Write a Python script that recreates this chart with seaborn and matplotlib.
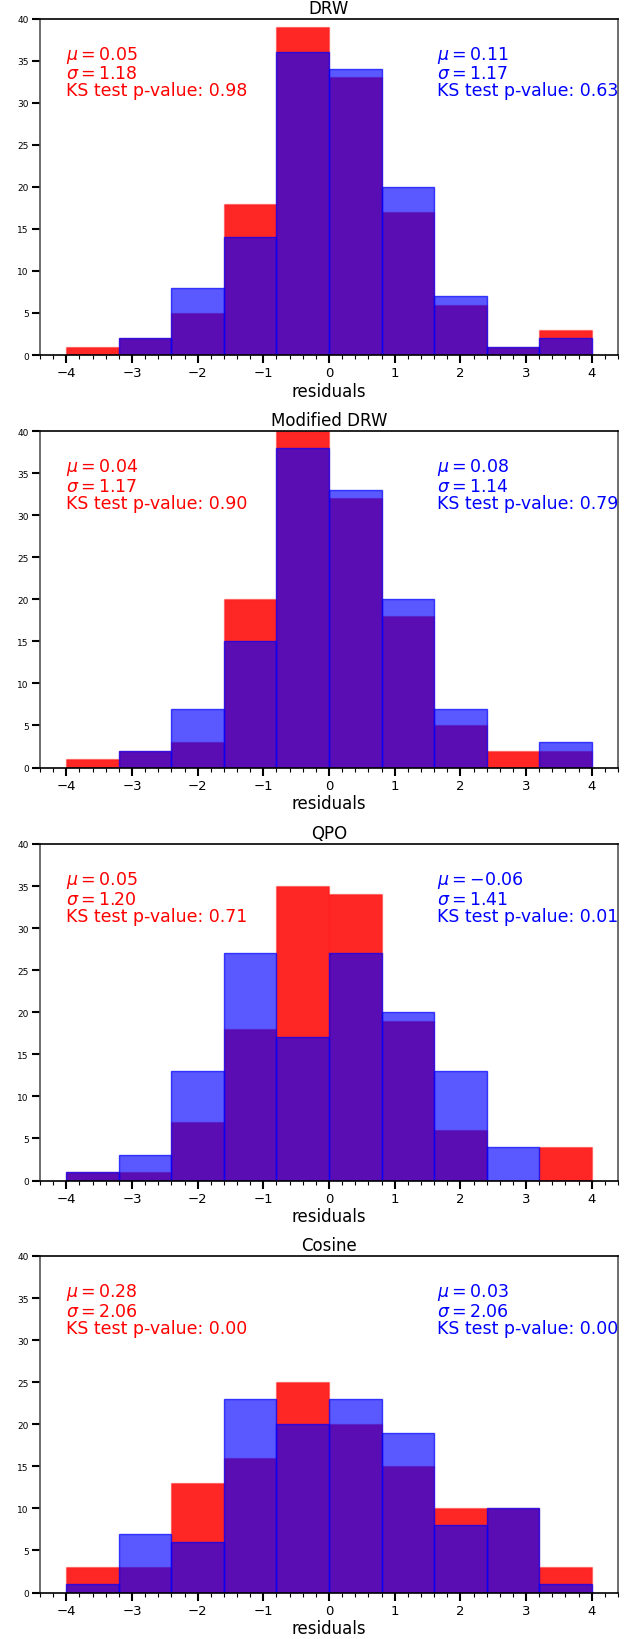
import numpy as np
import pandas as pd
import matplotlib
matplotlib.use("Agg")
import matplotlib.pyplot as plt
from matplotlib.ticker import MultipleLocator
import seaborn as sns

# bin layout shared by all panels
bin_edges = np.linspace(-4, 4, 11)
bin_centers = (bin_edges[:-1] + bin_edges[1:]) / 2

titles = ['DRW', 'Modified DRW', 'QPO', 'Cosine']

# counts per bin
red_drw = [1, 2, 5, 18, 39, 33, 17, 6, 1, 3]
blue_drw = [0, 2, 8, 14, 36, 34, 20, 7, 1, 2]
red_mdrw = [1, 2, 3, 20, 40, 32, 18, 5, 2, 2]
blue_mdrw = [0, 2, 7, 15, 38, 33, 20, 7, 0, 3]
red_qpo = [1, 1, 7, 18, 35, 34, 19, 6, 0, 4]
blue_qpo = [1, 3, 13, 27, 17, 27, 20, 13, 4, 0]
red_cos = [3, 3, 13, 16, 25, 20, 15, 10, 10, 3]
blue_cos = [1, 7, 6, 23, 20, 23, 19, 8, 10, 1]

red_mu = ['0.05', '0.04', '0.05', '0.28']
red_sigma = ['1.18', '1.17', '1.20', '2.06']
red_ks = ['0.98', '0.90', '0.71', '0.00']
blue_mu = ['0.11', '0.08', '-0.06', '0.03']
blue_sigma = ['1.17', '1.14', '1.41', '2.06']
blue_ks = ['0.63', '0.79', '0.01', '0.00']

red_counts = [red_drw, red_mdrw, red_qpo, red_cos]
blue_counts = [blue_drw, blue_mdrw, blue_qpo, blue_cos]

sns.set_style('white')
plt.rcParams['font.family'] = ['DejaVu Sans']
plt.rcParams['text.color'] = 'black'
plt.rcParams['axes.labelcolor'] = 'black'
plt.rcParams['xtick.color'] = 'black'
plt.rcParams['ytick.color'] = 'black'

fig = plt.figure(figsize=(6.44, 16.4), dpi=100)
W, H = 644, 1640
left, right = 40, 618
tops = [19.5, 432, 845, 1257]
ax_h = 336.5

for i in range(4):
    ax = fig.add_axes([left / W, 1 - (tops[i] + ax_h) / H, (right - left) / W, ax_h / H])
    df = pd.DataFrame({'x': bin_centers, 'red': red_counts[i], 'blue': blue_counts[i]})
    sns.histplot(data=df, x='x', weights='red', binwidth=0.8, binrange=(-4, 4), color=(1, 0, 0),
                 alpha=0.85, edgecolor=(1, 0, 0, 0.3), linewidth=1, ax=ax)
    sns.histplot(data=df, x='x', weights='blue', binwidth=0.8, binrange=(-4, 4), color=(0, 0, 1),
                 alpha=0.65, edgecolor=(0, 0, 1, 0.7), linewidth=1, ax=ax)

    ax.set_xlim(-4.4, 4.4)
    ax.set_ylim(0, 40)
    ax.set_title(titles[i], fontsize=12, pad=4)
    ax.set_xlabel('residuals', fontsize=12, labelpad=2)
    ax.set_ylabel('')
    ax.xaxis.set_major_locator(MultipleLocator(1))
    ax.xaxis.set_minor_locator(MultipleLocator(0.2))
    ax.yaxis.set_major_locator(MultipleLocator(5))
    ax.tick_params(axis='x', which='major', direction='out', length=6, width=1.5,
                   labelsize=9.5, bottom=True, pad=2)
    ax.tick_params(axis='x', which='minor', direction='out', length=3, width=0.8, bottom=True)
    ax.tick_params(axis='y', which='major', direction='out', length=6, width=1.5,
                   labelsize=6.5, left=True, pad=2)
    for side in ['top', 'bottom']:
        ax.spines[side].set_color('black')
        ax.spines[side].set_linewidth(1.2)
    for side in ['left', 'right']:
        ax.spines[side].set_color('#555555')
        ax.spines[side].set_linewidth(1.2)

    red_txt = '$\\mu = %s$\n$\\sigma = %s$\nKS test p-value: %s' % (red_mu[i], red_sigma[i], red_ks[i])
    blue_txt = '$\\mu = %s$\n$\\sigma = %s$\nKS test p-value: %s' % (blue_mu[i], blue_sigma[i], blue_ks[i])
    ax.text(0.045, 0.925, red_txt, transform=ax.transAxes, color='red', fontsize=12.5,
            va='top', ha='left', linespacing=0.95)
    ax.text(0.6865, 0.925, blue_txt, transform=ax.transAxes, color='blue', fontsize=12.5,
            va='top', ha='left', linespacing=0.95)

fig.savefig('out.png', dpi=100)
